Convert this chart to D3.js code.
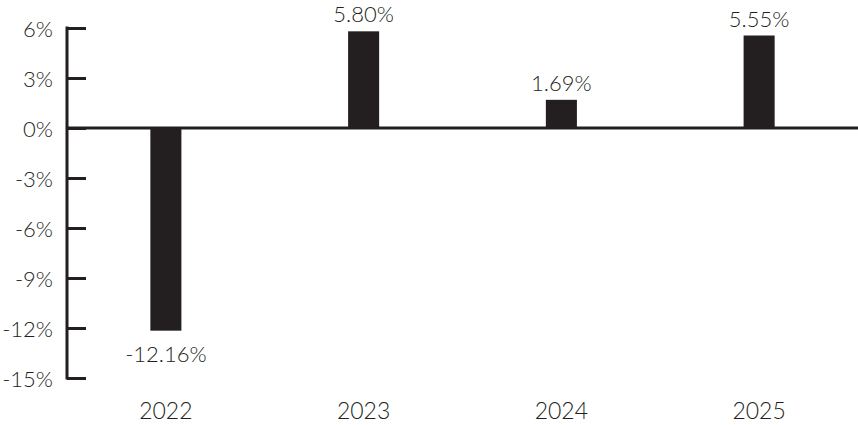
<!DOCTYPE html>
<html><head><meta charset="utf-8">
<script src="https://cdn.jsdelivr.net/npm/d3@7"></script>
<style>
html,body{margin:0;padding:0;background:#fff;}
svg{display:block;}
text{font-family:"Lato","DejaVu Sans",sans-serif;font-weight:300;fill:#231f20;}
</style></head>
<body>
<svg id="chart" width="858" height="425"></svg>
<script>
const categories = ["2022", "2023", "2024", "2025"];
const values = [-12.16, 5.80, 1.69, 5.55];
const valueLabels = ["-12.16%", "5.80%", "1.69%", "5.55%"];
const tickValues = [6, 3, 0, -3, -6, -9, -12, -15];
const tickLabels = ["6%", "3%", "0%", "-3%", "-6%", "-9%", "-12%", "-15%"];

const svg = d3.select("#chart");
const ink = "#231f20";
const x0 = 67, x1 = 858;

const y = d3.scaleLinear().domain([-15, 6]).range([378, 28]);
const x = d3.scaleBand().domain(categories).range([x0, x1])
  .paddingInner(0.843).paddingOuter(0.4215);

// y axis
const yAxis = d3.axisRight(y).tickValues(tickValues).tickSize(19)
  .tickFormat((d, i) => tickLabels[i]);
const gy = svg.append("g").attr("transform", `translate(${x0},0)`).call(yAxis);
gy.select(".domain").remove();
gy.selectAll(".tick line").attr("stroke", ink).attr("stroke-width", 3);
gy.selectAll(".tick text").attr("x", -14).attr("dy", "0.38em")
  .attr("text-anchor", "end").style("font-size", "22px")
  .style("font-family", '"Lato","DejaVu Sans",sans-serif').style("font-weight", 300)
  .attr("fill", ink);
svg.append("line").attr("x1", x0).attr("x2", x0)
  .attr("y1", y(6) - 1.5).attr("y2", y(-15) + 1.5)
  .attr("stroke", ink).attr("stroke-width", 3);

// bars
svg.selectAll("rect.bar").data(values).join("rect")
  .attr("class", "bar")
  .attr("x", (d, i) => x(categories[i]))
  .attr("width", x.bandwidth())
  .attr("y", d => Math.min(y(d), y(0)))
  .attr("height", d => Math.abs(y(d) - y(0)))
  .attr("fill", ink);

// zero line
svg.append("line").attr("x1", x0).attr("x2", x1)
  .attr("y1", y(0)).attr("y2", y(0))
  .attr("stroke", ink).attr("stroke-width", 3);

// value labels
svg.selectAll("text.val").data(values).join("text")
  .attr("class", "val")
  .attr("x", (d, i) => x(categories[i]) + x.bandwidth() / 2)
  .attr("y", d => d >= 0 ? y(d) - 9 : y(d) + 31)
  .attr("text-anchor", "middle")
  .style("font-size", "22px")
  .text((d, i) => valueLabels[i]);

// category labels
svg.selectAll("text.cat").data(categories).join("text")
  .attr("class", "cat")
  .attr("x", d => x(d) + x.bandwidth() / 2)
  .attr("y", 419)
  .attr("text-anchor", "middle")
  .style("font-size", "23px")
  .text(d => d);
</script>
</body></html>
